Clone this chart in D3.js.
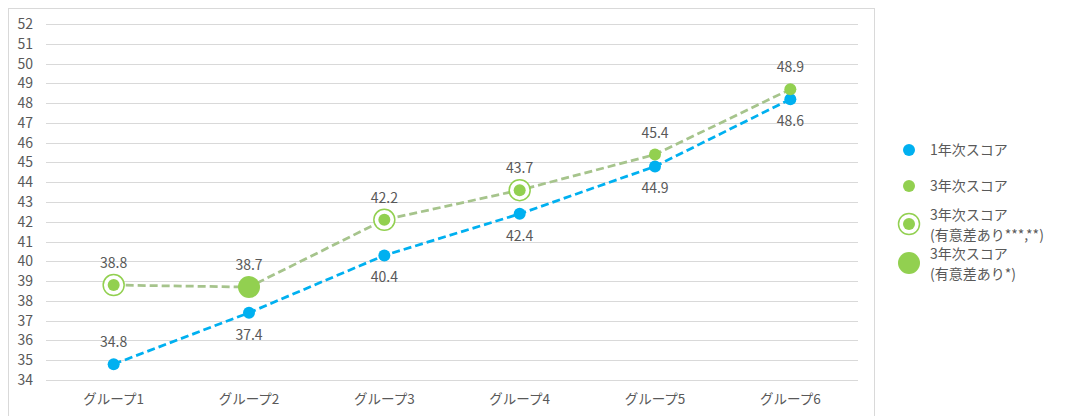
<!DOCTYPE html>
<html lang="ja">
<head>
    <meta charset="UTF-8">
    <title>スコア比較</title>
    <script src="https://d3js.org/d3.v7.min.js"></script>
    <style>
        body { margin: 0; background: #fff; }
        text { font-family: "Noto Sans CJK JP", "Noto Sans", sans-serif; fill: #595959; }
    </style>
</head>
<body>
    <svg width="1067" height="416"></svg>

    <script>
        // categories
        const groups = ["グループ1", "グループ2", "グループ3", "グループ4", "グループ5", "グループ6"];
        // plotted values
        const year1 = [34.8, 37.4, 40.3, 42.4, 44.8, 48.2];
        const year3 = [38.8, 38.7, 42.1, 43.6, 45.4, 48.7];
        // data label texts
        const year1Labels = ["34.8", "37.4", "40.4", "42.4", "44.9", "48.6"];
        const year3Labels = ["38.8", "38.7", "42.2", "43.7", "45.4", "48.9"];
        // significance marker per group for 3年次: "ring" = ***,**, "big" = *, "" = none
        const year3Sig = ["ring", "big", "ring", "ring", "", ""];
        // blue label above (1) or below (0)
        const year1Above = [1, 0, 0, 0, 0, 0];
        const yTicks = d3.range(34, 53);
        const legendItems = [
            { kind: "blue", lines: ["1年次スコア"] },
            { kind: "green", lines: ["3年次スコア"] },
            { kind: "ring", lines: ["3年次スコア", "(有意差あり***,**)"] },
            { kind: "big", lines: ["3年次スコア", "(有意差あり*)"] }
        ];

        const blue = "#00B0F0";
        const green = "#92D050";
        const greenLine = "#A6C48C";

        const svg = d3.select("svg");

        // chart frame
        svg.append("rect")
            .attr("x", 8.5).attr("y", 8.5)
            .attr("width", 866).attr("height", 420)
            .attr("fill", "none")
            .attr("stroke", "#D9D9D9");

        const plot = { left: 46, right: 858, top: 24, bottom: 380 };

        const x = d3.scaleBand()
            .domain(groups)
            .range([plot.left, plot.right]);

        const y = d3.scaleLinear()
            .domain([34, 52])
            .range([plot.bottom, plot.top]);

        // gridlines
        svg.append("g")
            .selectAll("line")
            .data(yTicks)
            .enter().append("line")
            .attr("x1", plot.left).attr("x2", plot.right)
            .attr("y1", d => Math.round(y(d)) + 0.5)
            .attr("y2", d => Math.round(y(d)) + 0.5)
            .attr("stroke", "#D9D9D9")
            .attr("stroke-width", 1);

        // y axis labels
        svg.append("g")
            .call(d3.axisLeft(y).tickValues(yTicks).tickSize(0).tickPadding(0))
            .attr("transform", `translate(${plot.left - 13},0)`)
            .call(g => g.select(".domain").remove())
            .selectAll("text")
            .attr("font-size", 14)
            .attr("fill", "#595959");

        // x axis labels
        svg.append("g")
            .attr("transform", `translate(0,${plot.bottom})`)
            .call(d3.axisBottom(x).tickSize(0).tickPadding(14))
            .call(g => g.select(".domain").remove())
            .selectAll("text")
            .attr("font-size", 13.5)
            .attr("fill", "#595959");

        const cx = i => x(groups[i]) + x.bandwidth() / 2;

        const line = d3.line()
            .x((d, i) => cx(i))
            .y(d => y(d));

        // lines
        svg.append("path")
            .datum(year3)
            .attr("d", line)
            .attr("fill", "none")
            .attr("stroke", greenLine)
            .attr("stroke-width", 2.75)
            .attr("stroke-dasharray", "8,4");

        svg.append("path")
            .datum(year1)
            .attr("d", line)
            .attr("fill", "none")
            .attr("stroke", blue)
            .attr("stroke-width", 2.75)
            .attr("stroke-dasharray", "8,4");

        // blue markers
        svg.append("g")
            .selectAll("circle")
            .data(year1)
            .enter().append("circle")
            .attr("cx", (d, i) => cx(i))
            .attr("cy", d => y(d))
            .attr("r", 6)
            .attr("fill", blue);

        // green markers
        const g3 = svg.append("g")
            .selectAll("g")
            .data(year3)
            .enter().append("g")
            .attr("transform", (d, i) => `translate(${cx(i)},${y(d)})`);

        g3.filter((d, i) => year3Sig[i] === "ring")
            .append("circle")
            .attr("r", 10.5)
            .attr("fill", "#fff")
            .attr("stroke", green)
            .attr("stroke-width", 1.5);

        g3.append("circle")
            .attr("r", (d, i) => year3Sig[i] === "big" ? 11 : 6)
            .attr("fill", green);

        // data labels
        svg.append("g")
            .selectAll("text")
            .data(year3Labels)
            .enter().append("text")
            .attr("x", (d, i) => cx(i))
            .attr("y", (d, i) => y(year3[i]) - 17)
            .attr("text-anchor", "middle")
            .attr("font-size", 14)
            .text(d => d);

        svg.append("g")
            .selectAll("text")
            .data(year1Labels)
            .enter().append("text")
            .attr("x", (d, i) => cx(i))
            .attr("y", (d, i) => year1Above[i] ? y(year1[i]) - 17 : y(year1[i]) + 27)
            .attr("text-anchor", "middle")
            .attr("font-size", 14)
            .text(d => d);

        // legend
        const legendY = [150, 186, 224, 263];
        const lg = svg.append("g")
            .selectAll("g")
            .data(legendItems)
            .enter().append("g")
            .attr("transform", (d, i) => `translate(909,${legendY[i]})`);

        lg.filter(d => d.kind === "ring")
            .append("circle")
            .attr("r", 10.5)
            .attr("fill", "#fff")
            .attr("stroke", green)
            .attr("stroke-width", 1.5);

        lg.append("circle")
            .attr("r", d => d.kind === "big" ? 11 : 6)
            .attr("fill", d => d.kind === "blue" ? blue : green);

        lg.append("text")
            .attr("x", 21)
            .attr("font-size", 14)
            .attr("fill", "#404040")
            .each(function (d) {
                const t = d3.select(this);
                const y0 = d.lines.length === 1 ? 5 : -4;
                d.lines.forEach((s, k) => {
                    t.append("tspan")
                        .attr("x", 21)
                        .attr("y", y0 + k * 20)
                        .text(s);
                });
            });
    </script>
</body>
</html>
